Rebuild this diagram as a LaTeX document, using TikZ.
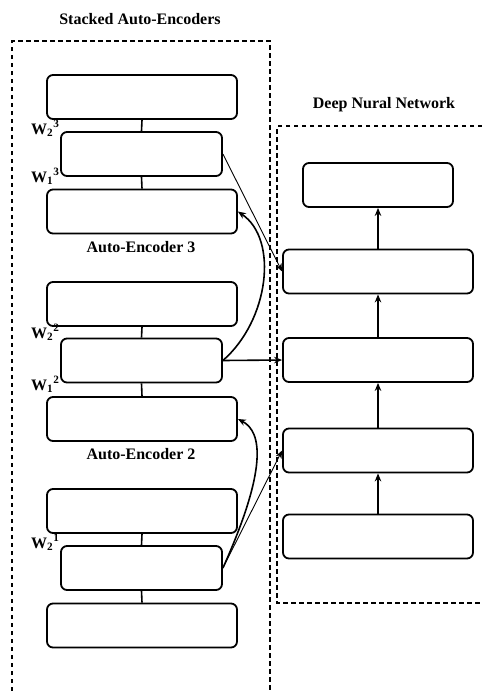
\documentclass[tikz,border=0pt]{standalone}
\usepackage{fontspec}
\setmainfont{Liberation Serif}
\usetikzlibrary{arrows.meta}
\begin{document}
\begin{tikzpicture}[x=1pt,y=-1pt,>={Stealth[length=8pt,width=6.5pt]},
  wide/.style={draw,line width=1.8pt,rounded corners=6pt,minimum width=190pt,minimum height=44pt,inner sep=0pt},
  narrow/.style={wide,minimum width=161pt},
  topbox/.style={wide,minimum width=150pt},
  caption/.style={font=\fontsize{16}{19}\selectfont\bfseries,anchor=base,inner sep=0pt},
  weight/.style={font=\fontsize{16}{19}\selectfont\bfseries,anchor=base west,inner sep=0pt},
  frame/.style={line width=2pt,dash pattern=on 4.5pt off 3.5pt},
  link/.style={line width=1.6pt},
  skip/.style={->,line width=1.6pt},
  feed/.style={->,line width=0.9pt}]
\useasboundingbox (0,0) rectangle (482,691);
\draw[frame](12,691)--(12,41)--(270,41)--(270,691);%左の枠
\draw[frame](482,126)--(277,126)--(277,603)--(482,603);%右の枠
\node(saetitle)[caption] at (140,24){Stacked Auto-Encoders};
\node(dnntitle)[caption] at (384,108){Deep Nural Network};
%Auto-Encoder 3
\node(ae3out)[wide] at (142,97){};
\node(ae3hid)[narrow] at (141.5,154){};
\node(ae3in)[wide] at (142,211.5){};
\node(ae3name)[caption] at (141,252){Auto-Encoder 3};
%Auto-Encoder 2
\node(ae2out)[wide] at (142,304){};
\node(ae2hid)[narrow] at (141.5,360.5){};
\node(ae2in)[wide] at (142,419){};
\node(ae2name)[caption] at (141,459){Auto-Encoder 2};
%Auto-Encoder 1
\node(ae1out)[wide] at (142,511){};
\node(ae1hid)[narrow] at (141.5,568){};
\node(ae1in)[wide] at (142,625.5){};
%重み
\node(w23)[weight] at (31,134){W\textsubscript{2}\textsuperscript{3}};
\node(w13)[weight] at (31,182){W\textsubscript{1}\textsuperscript{3}};
\node(w22)[weight] at (31,338){W\textsubscript{2}\textsuperscript{2}};
\node(w12)[weight] at (31,390){W\textsubscript{1}\textsuperscript{2}};
\node(w21)[weight] at (31,548){W\textsubscript{2}\textsuperscript{1}};
%Deep Nural Network
\node(dnn5)[topbox] at (378,185){};
\node(dnn4)[wide] at (378,271.5){};
\node(dnn3)[wide] at (378,360){};
\node(dnn2)[wide] at (378,450.5){};
\node(dnn1)[wide] at (378,536.5){};
\draw[link](ae3out.south)--(ae3hid.north);
\draw[link](ae3hid.south)--(ae3in.north);
\draw[link](ae2out.south)--(ae2hid.north);
\draw[link](ae2hid.south)--(ae2in.north);
\draw[link](ae1out.south)--(ae1hid.north);
\draw[link](ae1hid.south)--(ae1in.north);
\draw[skip](dnn1.north)--(dnn2.south);
\draw[skip](dnn2.north)--(dnn3.south);
\draw[skip](dnn3.north)--(dnn4.south);
\draw[skip](dnn4.north)--(dnn5.south);
\draw[feed](ae3hid.east)--(dnn4.west);
\draw[skip](ae2hid.east)--(dnn3.west);
\draw[feed](ae1hid.east)--(dnn2.west);
\draw[skip](ae2hid.east)..controls +(46,-40) and +(41,28)..(ae3in.east);
\draw[skip](ae1hid.east)..controls +(44,-98) and +(25,13)..(ae2in.east);
\end{tikzpicture}
\end{document}
